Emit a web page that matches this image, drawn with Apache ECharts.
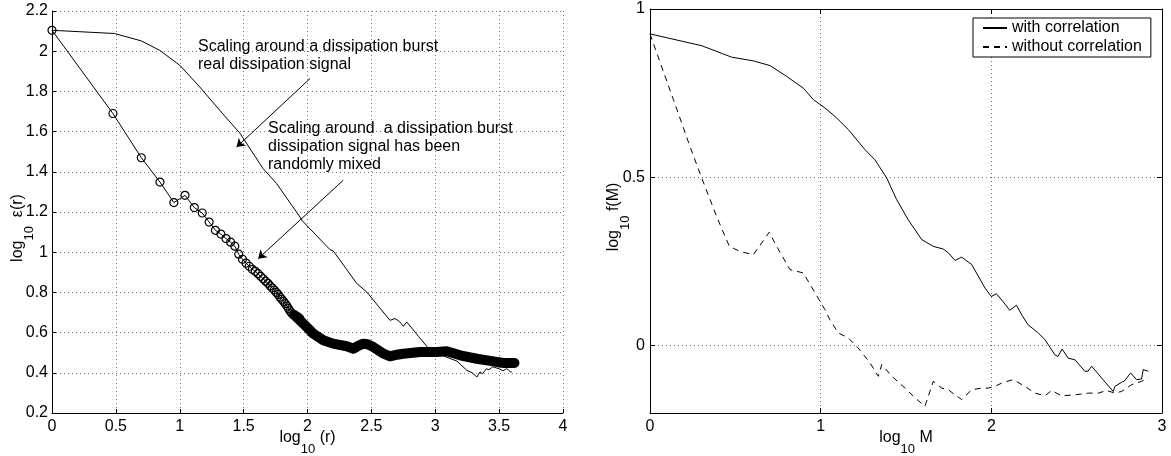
<!DOCTYPE html>
<html><head><meta charset="utf-8">
<script src="https://cdn.jsdelivr.net/npm/echarts@6/dist/echarts.min.js"></script>
<style>html,body{margin:0;padding:0;background:#fff}#c{width:1171px;height:456px}</style>
</head><body><div id="c"></div>
<script>
// ---------- data ----------
// left panel: scaling around a dissipation burst, real signal (thin line)
const realX = [0, 0.49, 0.70, 0.844, 1.0, 1.157, 1.314, 1.471, 1.651, 1.759, 1.941, 1.955, 2.05, 2.15, 2.176, 2.202, 2.3, 2.386, 2.464, 2.55, 2.646, 2.685, 2.72, 2.751, 2.777, 2.87, 2.96, 3.06, 3.17, 3.2, 3.248, 3.29, 3.326, 3.35, 3.37, 3.40, 3.42, 3.45, 3.5, 3.53, 3.56, 3.59, 3.6];
const realY = [2.104, 2.088, 2.051, 2.004, 1.93, 1.822, 1.705, 1.592, 1.417, 1.341, 1.175, 1.159, 1.096, 1.03, 1.013, 1.006, 0.92, 0.844, 0.802, 0.735, 0.661, 0.67, 0.655, 0.631, 0.653, 0.58, 0.512, 0.485, 0.458, 0.44, 0.412, 0.40, 0.379, 0.404, 0.395, 0.42, 0.415, 0.43, 0.42, 0.41, 0.421, 0.404, 0.404];
// left panel: randomly mixed signal (circles)
const mixedX = [0, 0.477, 0.699, 0.845, 0.954, 1.041, 1.114, 1.176, 1.230, 1.279, 1.322, 1.362, 1.398, 1.431, 1.462, 1.491, 1.519, 1.544, 1.568, 1.591, 1.613, 1.633, 1.653, 1.672, 1.690, 1.708, 1.724, 1.740, 1.756, 1.771, 1.785, 1.799, 1.813, 1.826, 1.839, 1.851, 1.863, 1.875, 1.886, 1.898, 1.908, 1.919, 1.929, 1.94];
const mixedY = [2.104, 1.69, 1.47, 1.349, 1.247, 1.283, 1.222, 1.195, 1.15, 1.109, 1.09, 1.068, 1.05, 1.03, 0.99, 0.965, 0.946, 0.93, 0.915, 0.905, 0.893, 0.88, 0.868, 0.856, 0.845, 0.832, 0.822, 0.812, 0.80, 0.79, 0.776, 0.766, 0.755, 0.744, 0.732, 0.72, 0.708, 0.697, 0.69, 0.686, 0.683, 0.68, 0.676, 0.67];
// dense tail of the circles (overlapping markers forming a band)
const tailX = [1.90, 1.967, 2.045, 2.124, 2.2, 2.307, 2.36, 2.40, 2.437, 2.47, 2.516, 2.594, 2.647, 2.70, 2.75, 2.882, 3.01, 3.09, 3.195, 3.326, 3.43, 3.535, 3.62];
const tailY = [0.686, 0.645, 0.595, 0.562, 0.545, 0.532, 0.52, 0.535, 0.545, 0.542, 0.528, 0.495, 0.482, 0.49, 0.495, 0.503, 0.503, 0.507, 0.487, 0.47, 0.459, 0.449, 0.449];
// right panel
const withX = [0, 0.303, 0.478, 0.605, 0.703, 0.80, 0.898, 0.957, 1.025, 1.084, 1.162, 1.26, 1.318, 1.387, 1.445, 1.513, 1.592, 1.66, 1.718, 1.75, 1.787, 1.826, 1.885, 1.963, 2.0, 2.03, 2.07, 2.108, 2.147, 2.18, 2.215, 2.27, 2.314, 2.372, 2.39, 2.415, 2.45, 2.49, 2.548, 2.566, 2.588, 2.646, 2.714, 2.724, 2.763, 2.78, 2.816, 2.851, 2.88, 2.89, 2.92];
const withY = [0.926, 0.891, 0.857, 0.846, 0.832, 0.80, 0.765, 0.731, 0.706, 0.681, 0.642, 0.582, 0.552, 0.498, 0.434, 0.374, 0.315, 0.295, 0.287, 0.275, 0.253, 0.263, 0.241, 0.171, 0.146, 0.154, 0.13, 0.105, 0.12, 0.09, 0.062, 0.04, 0.018, -0.027, -0.032, -0.01, -0.037, -0.042, -0.076, -0.076, -0.061, -0.096, -0.136, -0.121, -0.109, -0.105, -0.081, -0.101, -0.099, -0.071, -0.076];
const withoutX = [0, 0.137, 0.234, 0.303, 0.39, 0.465, 0.527, 0.605, 0.699, 0.742, 0.82, 0.898, 0.967, 1.025, 1.054, 1.103, 1.162, 1.22, 1.289, 1.338, 1.358, 1.417, 1.494, 1.553, 1.611, 1.66, 1.709, 1.748, 1.787, 1.826, 1.885, 1.943, 1.982, 2.02, 2.07, 2.128, 2.197, 2.256, 2.314, 2.353, 2.411, 2.49, 2.568, 2.627, 2.675, 2.724, 2.763, 2.822, 2.88, 2.92];
const withoutY = [0.926, 0.731, 0.592, 0.498, 0.384, 0.295, 0.28, 0.27, 0.337, 0.295, 0.226, 0.216, 0.157, 0.107, 0.077, 0.038, 0.023, -0.007, -0.051, -0.091, -0.056, -0.091, -0.126, -0.155, -0.18, -0.106, -0.126, -0.131, -0.146, -0.16, -0.131, -0.126, -0.126, -0.121, -0.109, -0.101, -0.121, -0.141, -0.149, -0.133, -0.149, -0.146, -0.141, -0.141, -0.133, -0.141, -0.136, -0.116, -0.106, -0.096];
const legendNames = ['with correlation', 'without correlation'];
const rightYTicks = [0, 0.5, 1];
// annotation arrows (data coords: from, to)
const arrows = [[[2.02, 1.864], [1.445, 1.523]], [[2.28, 1.358], [1.614, 0.968]]];
const notes = ['Scaling around a dissipation burst\nreal dissipation signal',
               'Scaling around  a dissipation burst\ndissipation signal has been\nrandomly mixed'];

// ---------- chart ----------
const FF = '"Liberation Sans", Arial, Helvetica, sans-serif';
const zip = (xs, ys) => xs.map((x, i) => [x, ys[i]]);
const rich = {
  a: {fontSize: 16, fontFamily: FF, color: '#000', lineHeight: 16, verticalAlign: 'top'},
  s: {fontSize: 13, fontFamily: FF, color: '#000', lineHeight: 13, padding: [13, 0, 0, 0], verticalAlign: 'top'}
};
const grid = {color: '#777', type: [1, 3], width: 1};
const lab = {color: '#000', fontSize: 16, fontFamily: FF};
const axLine = {show: true, onZero: false, lineStyle: {color: '#000', width: 1}};
const tick = (len, extra) => Object.assign({show: true, inside: true, length: len, lineStyle: {color: '#000'}}, extra || {});
const nm = (text, gap, pad) => ({name: text, nameLocation: 'middle', nameGap: gap, nameMoveOverlap: false,
  nameTextStyle: {rich, padding: pad || 0}});

const chart = echarts.init(document.getElementById('c'), null, {renderer: 'canvas'});
chart.setOption({
  animation: false,
  backgroundColor: '#fff',
  grid: [
    {left: 52, right: 608, top: 11, bottom: 43, containLabel: false, outerBoundsMode: 'none'},
    {left: 650, right: 9, top: 9, bottom: 43, containLabel: false, outerBoundsMode: 'none'}
  ],
  xAxis: [
    Object.assign({type: 'value', gridIndex: 0, min: 0, max: 4, interval: 0.5, axisLine: axLine, axisTick: tick(4),
     axisLabel: Object.assign({margin: 6}, lab), splitLine: {show: true, lineStyle: grid}},
     nm('{a|log}{s|10}{a| (r)}', 17)),
    Object.assign({type: 'value', gridIndex: 1, min: 0, max: 3, interval: 1, axisLine: axLine, axisTick: tick(5),
     axisLabel: Object.assign({margin: 6}, lab), splitLine: {show: true, lineStyle: grid}},
     nm('{a|log}{s|10}{a| M}', 17)),
    {type: 'value', gridIndex: 1, position: 'top', min: 0, max: 3, interval: 1, axisLine: axLine, axisTick: tick(5),
     axisLabel: {show: false}, splitLine: {show: false}}
  ],
  yAxis: [
    Object.assign({type: 'value', gridIndex: 0, min: 0.2, max: 2.2, interval: 0.2, axisLine: axLine, axisTick: tick(4),
     axisLabel: Object.assign({margin: 4}, lab), splitLine: {show: true, lineStyle: grid}},
     nm('{a|log}{s|10}{a|  ε(r)}', 26, [0, 32, 0, 0])),
    Object.assign({type: 'value', gridIndex: 1, min: -0.2, max: 1, axisLine: axLine, axisTick: tick(5, {customValues: rightYTicks}),
     axisLabel: Object.assign({margin: 5, customValues: rightYTicks}, lab), splitLine: {show: true, lineStyle: grid}},
     nm('{a|log}{s|10}{a| f(M)}', 28, [0, 12, 0, 0])),
    {type: 'value', gridIndex: 1, position: 'right', min: -0.2, max: 1, axisLine: axLine,
     axisTick: tick(5, {customValues: rightYTicks}), axisLabel: {show: false}, splitLine: {show: false}}
  ],
  legend: {
    data: legendNames, orient: 'vertical', left: 973, top: 18,
    padding: [1, 9, 1, 9], itemGap: 1, itemWidth: 24, itemHeight: 14, itemTextGap: 17,
    borderColor: '#000', borderWidth: 1, borderRadius: 0, backgroundColor: '#fff',
    itemStyle: {color: 'rgba(0,0,0,0)', borderColor: 'rgba(0,0,0,0)', borderWidth: 0},
    textStyle: {fontSize: 16, fontFamily: FF, color: '#000', lineHeight: 18}
  },
  graphic: [
    {type: 'text', left: 198, top: 38, z: 100, style: {text: notes[0], font: '16px ' + FF, fill: '#000', lineHeight: 18}},
    {type: 'text', left: 268, top: 120, z: 100, style: {text: notes[1], font: '16px ' + FF, fill: '#000', lineHeight: 18}}
  ],
  series: [
    {name: 'real', type: 'line', xAxisIndex: 0, yAxisIndex: 0, data: zip(realX, realY), symbol: 'none',
     lineStyle: {color: '#000', width: 1}, z: 3,
     markLine: {silent: true, symbol: ['none', 'arrow'], symbolSize: 8, animation: false,
       lineStyle: {color: '#000', width: 1, type: 'solid'}, label: {show: false},
       data: arrows.map(a => [{coord: a[0]}, {coord: a[1]}])}},
    {name: 'mixed', type: 'line', xAxisIndex: 0, yAxisIndex: 0, data: zip(mixedX, mixedY),
     symbol: 'circle', symbolSize: 8, showAllSymbol: true,
     itemStyle: {color: 'rgba(0,0,0,0)', borderColor: '#000', borderWidth: 1.2},
     lineStyle: {color: '#000', width: 1}, z: 4},
    {name: 'mixed tail', type: 'line', xAxisIndex: 0, yAxisIndex: 0, data: zip(tailX, tailY), symbol: 'none',
     lineStyle: {color: '#000', width: 10, cap: 'round', join: 'round'}, z: 4},
    {name: legendNames[0], type: 'line', xAxisIndex: 1, yAxisIndex: 1, data: zip(withX, withY), symbol: 'none',
     lineStyle: {color: '#000', width: 1}, itemStyle: {color: '#000'}},
    {name: legendNames[1], type: 'line', xAxisIndex: 1, yAxisIndex: 1, data: zip(withoutX, withoutY), symbol: 'none',
     lineStyle: {color: '#000', width: 1, type: [6, 5]}, itemStyle: {color: '#000'}}
  ]
});
</script></body></html>
